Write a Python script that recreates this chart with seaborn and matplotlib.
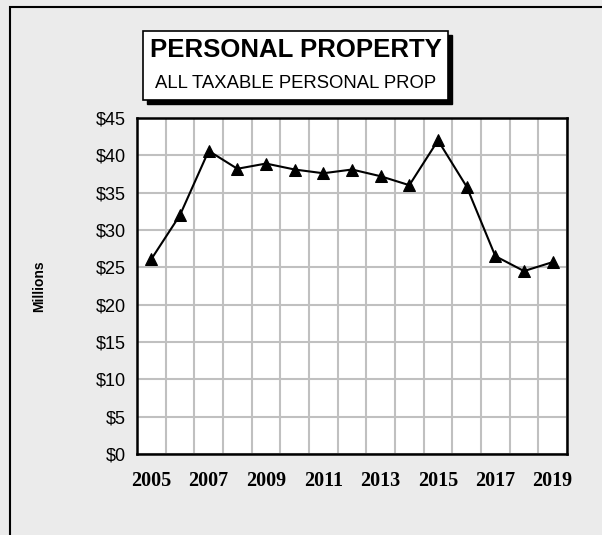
import numpy as np
import pandas as pd
import seaborn as sns
import matplotlib.pyplot as plt
from matplotlib.patches import Rectangle
from matplotlib.ticker import MultipleLocator, FuncFormatter

years = [2005, 2006, 2007, 2008, 2009, 2010, 2011, 2012,
         2013, 2014, 2015, 2016, 2017, 2018, 2019]
values = [26.1, 32.0, 40.6, 38.2, 38.9, 38.1, 37.6, 38.1,
          37.2, 36.0, 42.0, 35.8, 26.5, 24.5, 25.7]
shown_years = [2005, 2007, 2009, 2011, 2013, 2015, 2017, 2019]

df = pd.DataFrame({'year': years, 'value': values})

sns.set_style('white')
plt.rcParams['font.family'] = ['Liberation Sans', 'DejaVu Sans']
plt.rcParams['text.color'] = 'black'
plt.rcParams['axes.labelcolor'] = 'black'
plt.rcParams['xtick.color'] = 'black'
plt.rcParams['ytick.color'] = 'black'

fig = plt.figure(figsize=(6.02, 5.35), dpi=100)
fig.patch.set_facecolor('#ebebeb')
W, H = 602, 535

# outer frame
fig.patches.append(Rectangle((10 / W, -0.1), 1.0, (H - 7) / H + 0.1, transform=fig.transFigure,
                             fill=False, edgecolor='black', linewidth=1.5))

ax = fig.add_axes([137 / W, 1 - 454 / H, (567 - 137) / W, (454 - 118) / H])
ax.set_facecolor('white')

sns.lineplot(data=df, x='year', y='value', ax=ax, color='black', linewidth=1.5,
             marker='^', markersize=9, markeredgecolor='black', zorder=5)

ax.set_xlim(2004.5, 2019.5)
ax.set_ylim(0, 45)
ax.yaxis.set_major_locator(MultipleLocator(5))
ax.yaxis.set_major_formatter(FuncFormatter(lambda v, p: f'${v:.0f}'))
ax.set_xticks(years)
ax.set_xticks(np.arange(2005, 2019.6, 0.5), minor=True)
ax.set_xticklabels([str(y) if y in shown_years else '' for y in years],
                   fontfamily='Liberation Serif', fontweight='bold', fontsize=14.5)
ax.tick_params(axis='x', which='major', direction='in', length=4, width=1.5, pad=12)
ax.tick_params(axis='x', which='minor', length=0)
ax.tick_params(axis='y', direction='out', length=4, width=1.5, labelsize=13, pad=4)

ax.grid(True, axis='y', color='#c0c0c0', linewidth=1.5)
ax.grid(True, axis='x', which='minor', color='#c0c0c0', linewidth=1.5)
ax.set_axisbelow(True)
for s in ax.spines.values():
    s.set_visible(True)
    s.set_color('black')
    s.set_linewidth(1.8)

ax.set_xlabel('')
ax.set_ylabel('Millions', fontweight='bold', fontsize=10, labelpad=36)

# title box with shadow
bx0, bx1, by0, by1 = 143, 448, 31, 100
fig.patches.append(Rectangle(((bx0 + 4) / W, 1 - (by1 + 4) / H), (bx1 - bx0) / W, (by1 - by0) / H,
                             transform=fig.transFigure, facecolor='black', edgecolor='black'))
fig.patches.append(Rectangle((bx0 / W, 1 - by1 / H), (bx1 - bx0) / W, (by1 - by0) / H,
                             transform=fig.transFigure, facecolor='white', edgecolor='black',
                             linewidth=1.2))
cx = (bx0 + bx1) / 2 / W
fig.text(cx, 1 - 50 / H, 'PERSONAL PROPERTY', ha='center', va='center',
         fontsize=18.5, fontweight='bold')
fig.text(cx, 1 - 83 / H, 'ALL TAXABLE PERSONAL PROP', ha='center', va='center',
         fontsize=13.3)

fig.savefig('out.png', dpi=100, facecolor=fig.get_facecolor())
